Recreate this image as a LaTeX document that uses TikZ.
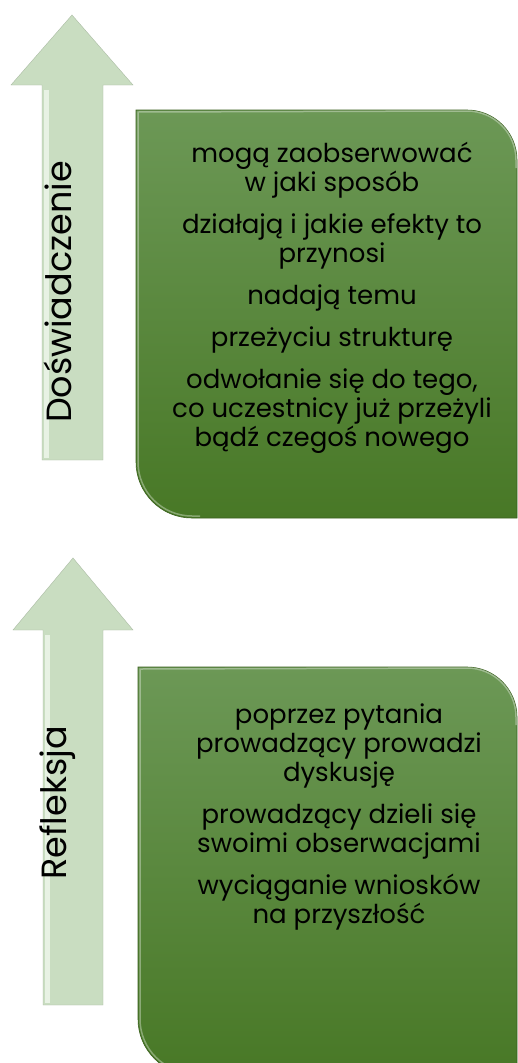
\documentclass[tikz,border=0pt]{standalone}
\usepackage{fontspec}
\setmainfont{Poppins}
\begin{document}
\begin{tikzpicture}[x=1pt,y=-1pt,
  arrowshape/.style={fill=arrowgreen, draw=arrowgreen!85!black, line width=0.4pt},
  boxshape/.style={top color=boxtop, bottom color=boxbottom, draw=boxbottom!80!black, line width=0.6pt},
  boxtext/.style={align=center, inner sep=0pt, text=black, font=\fontsize{26}{29}\selectfont},
  sidetext/.style={rotate=90, inner sep=0pt, text=black, font=\fontsize{35}{40}\selectfont}]
\definecolor{arrowgreen}{RGB}{201,221,193}
\definecolor{arrowlight}{RGB}{232,242,228}
\definecolor{boxtop}{RGB}{108,152,86}
\definecolor{boxbottom}{RGB}{72,120,38}
\useasboundingbox (0,0) rectangle (518,1063);
\clip (0,0) rectangle (518,1063);
\fill[white] (0,0) rectangle (518,1063);
% first arrow
\path[arrowshape] (42,460) -- (42,85) -- (11,85) -- (72,15) -- (133,85) -- (103,85) -- (103,460) -- cycle;
\fill[arrowlight] (44,458) -- (44,90) -- (49,90) -- (49,458) -- cycle;
% first box
\path[boxshape] (136,110) -- (467,110) arc[start angle=-90,end angle=0,radius=50] -- (517,518) -- (192,518) arc[start angle=90,end angle=180,radius=56] -- cycle;
\draw[white, opacity=0.35, line width=1.5pt] (516,168) -- (516,160) arc[start angle=0,end angle=-90,radius=49] -- (138,112) -- (138,462) arc[start angle=180,end angle=90,radius=54] -- (200,516);
% second arrow
\path[arrowshape] (43,1005) -- (43,630) -- (13,630) -- (73,558) -- (133,630) -- (103,630) -- (103,1005) -- cycle;
\fill[arrowlight] (45,1003) -- (45,635) -- (50,635) -- (50,1003) -- cycle;
% second box
\path[boxshape] (138,667) -- (467,667) arc[start angle=-90,end angle=0,radius=50] -- (517,1075) -- (194,1075) arc[start angle=90,end angle=180,radius=56] -- cycle;
\draw[white, opacity=0.35, line width=1.5pt] (516,725) -- (516,717) arc[start angle=0,end angle=-90,radius=49] -- (140,669) -- (140,1019) arc[start angle=180,end angle=90,radius=54] -- (202,1073);
% texts
\node[sidetext] (t1) at (58,292) {Doświadczenie};
\node[sidetext] (t2) at (58,803) {Refleksja};
\node[boxtext] (b1) at (332,298) {mogą zaobserwować\\w jaki sposób\\[13pt]działają i jakie efekty to\\przynosi\\[13pt]nadają temu\\[13pt]przeżyciu strukturę\\[13pt]odwołanie się do tego,\\co uczestnicy już przeżyli\\bądź czegoś nowego};
\node[boxtext] (b2) at (339,817) {poprzez pytania\\prowadzący prowadzi\\dyskusję\\[13pt]prowadzący dzieli się\\swoimi obserwacjami\\[13pt]wyciąganie wniosków\\na przyszłość};
\end{tikzpicture}
\end{document}
